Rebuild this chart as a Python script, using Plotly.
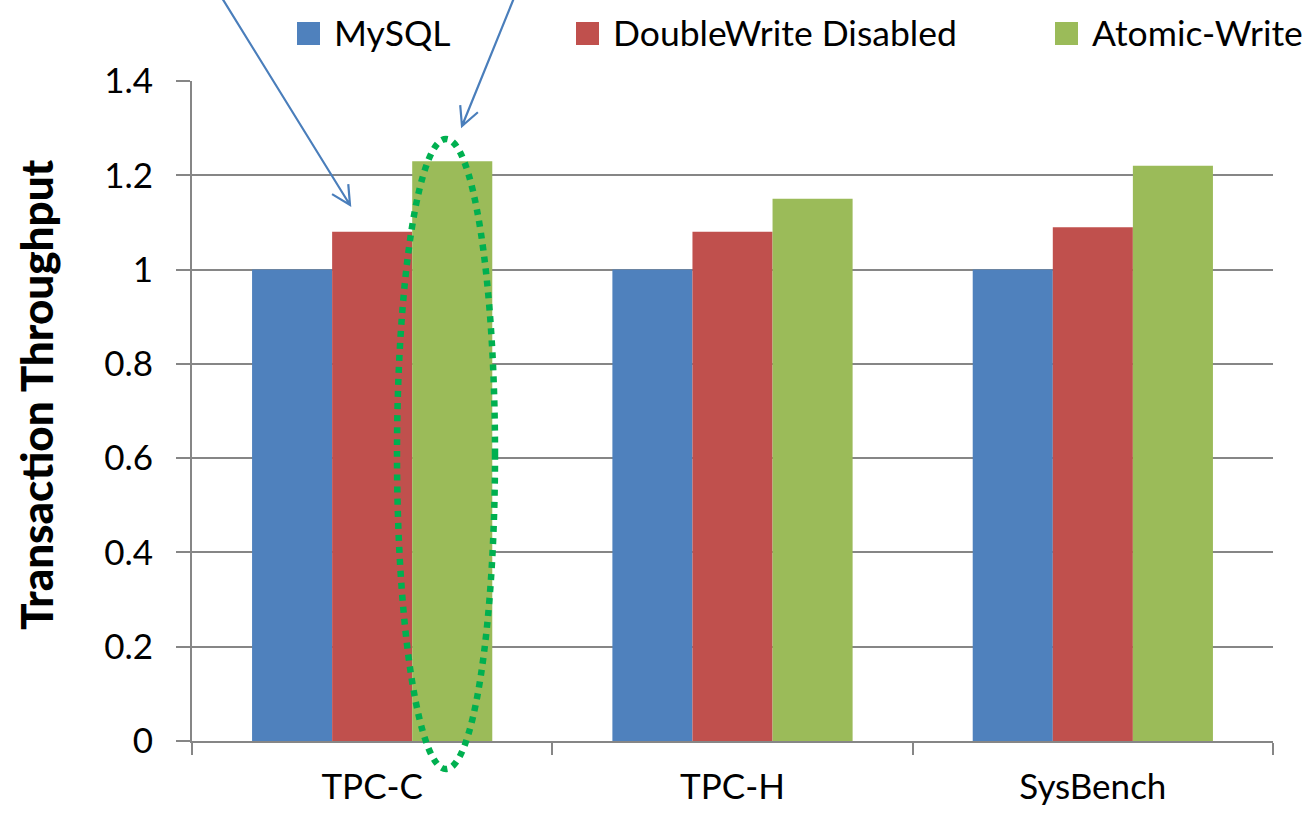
import math
import plotly.graph_objects as go

# Benchmark categories and normalised transaction throughput per configuration
categories = ["TPC-C", "TPC-H", "SysBench"]
series_names = ["MySQL", "DoubleWrite Disabled", "Atomic-Write"]
mysql = [1.0, 1.0, 1.0]
doublewrite_disabled = [1.08, 1.08, 1.09]
atomic_write = [1.23, 1.15, 1.22]
y_ticks = [0, 0.2, 0.4, 0.6, 0.8, 1, 1.2, 1.4]
y_tick_text = ["0", "0.2", "0.4", "0.6", "0.8", "1", "1.2", "1.4"]
y_title = "Transaction Throughput"

colors = ["#4F81BD", "#C0504D", "#9BBB59"]
FONT = "Lato"
W, H = 1308, 827
ML, MR, MT, MB = 192, 35, 81, 86
PW, PH = W - ML - MR, H - MT - MB


def px(x, y):
    """Pixel position on the page -> paper coordinates."""
    return (x - ML) / PW, (H - MB - y) / PH


fig = go.Figure()
for name, vals, col in zip(series_names, [mysql, doublewrite_disabled, atomic_write], colors):
    fig.add_trace(go.Bar(x=categories, y=vals, name=name, marker_color=col,
                         marker_line_width=0, showlegend=False))

shapes = []
annotations = []

# Legend row across the top
legend_x = [297, 576, 1055]
for name, col, lx in zip(series_names, colors, legend_x):
    x0, y0 = px(lx, 22)
    x1, y1 = px(lx + 23, 45)
    shapes.append(dict(type="rect", xref="paper", yref="paper", x0=x0, x1=x1, y0=y1, y1=y0,
                       fillcolor=col, line_width=0))
    tx, ty = px(lx + 35, 33)
    annotations.append(dict(text=name, xref="paper", yref="paper", x=tx, y=ty,
                            xanchor="left", yanchor="middle", showarrow=False,
                            font=dict(family=FONT, size=35.5, color="black")))

# Rotated y-axis title
tx, ty = px(36, 395)
annotations.append(dict(text="<b>%s</b>" % y_title, xref="paper", yref="paper", x=tx, y=ty,
                        xanchor="center", yanchor="middle", textangle=-90, showarrow=False,
                        font=dict(family="Lato Black, Lato", size=44, color="black")))


# Callout arrows with open V heads
def arrow(start, tip, head_len=21, head_ang=27):
    sx, sy = start
    tx, ty = tip
    d = math.hypot(tx - sx, ty - sy)
    ux, uy = (tx - sx) / d, (ty - sy) / d
    pts = []
    for s in (1, -1):
        a = math.radians(head_ang * s)
        rx = ux * math.cos(a) - uy * math.sin(a)
        ry = ux * math.sin(a) + uy * math.cos(a)
        pts.append((tx - head_len * rx, ty - head_len * ry))
    P = lambda p: "%.5f,%.5f" % px(*p)
    path = "M%s L%s M%s L%s L%s" % (P(start), P(tip), P(pts[0]), P(tip), P(pts[1]))
    return dict(type="path", xref="paper", yref="paper", path=path,
                line=dict(color="#4A7EBB", width=2.2))


shapes.append(arrow((222, -2), (350, 205)))
shapes.append(arrow((514, -2), (462, 126)))

# Dotted ring around the Atomic-Write bar of TPC-C
ex0, ey0 = px(397, 139)
ex1, ey1 = px(495, 769)
shapes.append(dict(type="circle", xref="paper", yref="paper", x0=ex0, x1=ex1, y0=ey1, y1=ey0,
                   line=dict(color="#00B050", width=6.5, dash="6px,6px")))

fig.update_layout(
    width=W, height=H,
    margin=dict(l=ML, r=MR, t=MT, b=MB),
    plot_bgcolor="white", paper_bgcolor="white",
    barmode="group", bargap=1 / 3, bargroupgap=0,
    font=dict(family=FONT, size=35, color="black"),
    shapes=shapes, annotations=annotations,
    xaxis=dict(showgrid=False, showline=True, linecolor="#868686", linewidth=2,
               ticks="outside", tickson="boundaries", ticklen=12, tickcolor="#868686",
               tickwidth=2, ticklabelstandoff=14, tickfont=dict(size=35)),
    yaxis=dict(range=[0, 1.4], tickvals=y_ticks, ticktext=y_tick_text,
               showgrid=True, gridcolor="#868686", gridwidth=2,
               showline=True, linecolor="#868686", linewidth=2,
               ticks="outside", ticklen=14, tickcolor="#868686", tickwidth=2,
               ticklabelstandoff=16, tickfont=dict(size=35), zeroline=False),
)

fig.write_html("out.html")
